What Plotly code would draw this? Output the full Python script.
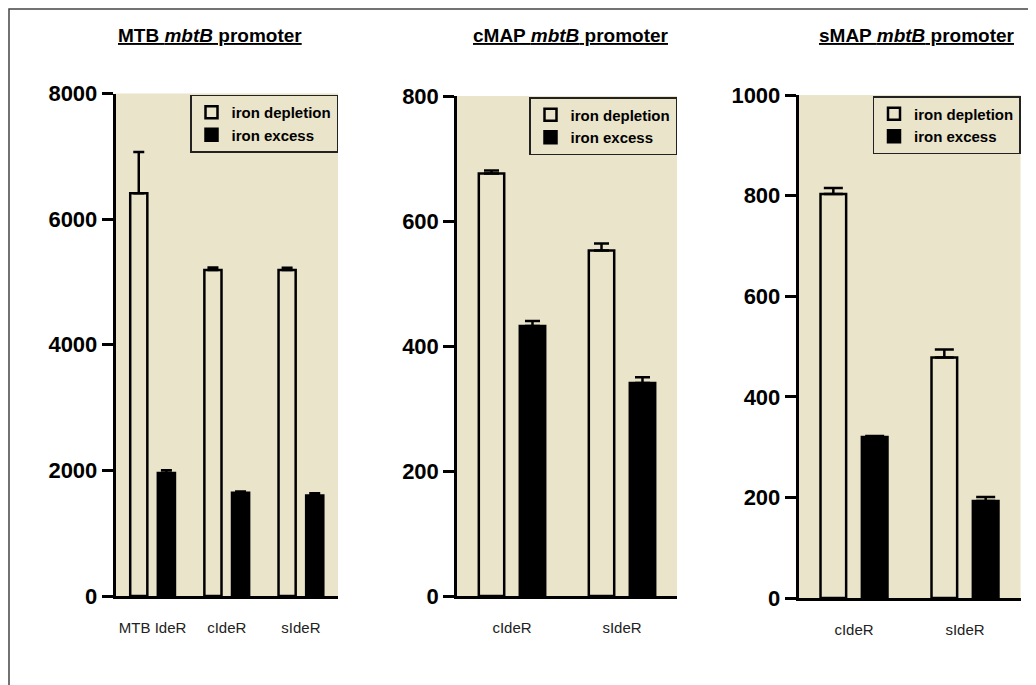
import plotly.graph_objects as go

W, H = 1036, 685

# ---------------- data ----------------
cats_mtb = ["MTB IdeR", "cIdeR", "sIdeR"]
dep_mtb = [6410, 5190, 5190]
dep_mtb_err = [660, 40, 35]
exc_mtb = [1960, 1645, 1600]
exc_mtb_err = [40, 20, 35]

cats_cmap = ["cIdeR", "sIdeR"]
dep_cmap = [676, 553]
dep_cmap_err = [5, 11]
exc_cmap = [432, 341]
exc_cmap_err = [8, 9]

cats_smap = ["cIdeR", "sIdeR"]
dep_smap = [803, 478]
dep_smap_err = [12, 16]
exc_smap = [320, 193]
exc_smap_err = [2, 8]

titles = ["MTB <i>mbtB</i> promoter", "cMAP <i>mbtB</i> promoter", "sMAP <i>mbtB</i> promoter"]
y_max = [8000, 800, 1000]
y_dtick = [2000, 200, 200]
series_names = ["iron depletion", "iron excess"]

# ---------------- style ----------------
FONT = "Liberation Sans, Arial, sans-serif"
BG = "#EAE4CA"
OX, OY = 8, 8  # page offset of the figure in the browser
panels_px = [(115.5, 338, 93.5, 596), (457, 677, 96, 596), (798.5, 1020.5, 95, 598)]
title_px = [(210, 36), (571, 36), (917, 36)]
cap_w = [5.5, 7.5, 9.5]


def px(x):
    return (x - OX) / W


def py(y):
    return 1 - (y - OY) / H


data_sets = [
    (cats_mtb, dep_mtb, dep_mtb_err, exc_mtb, exc_mtb_err),
    (cats_cmap, dep_cmap, dep_cmap_err, exc_cmap, exc_cmap_err),
    (cats_smap, dep_smap, dep_smap_err, exc_smap, exc_smap_err),
]

fig = go.Figure()
layout = dict(
    width=W, height=H, autosize=False,
    margin=dict(l=0, r=0, t=0, b=0, autoexpand=False),
    paper_bgcolor="white", plot_bgcolor=BG,
    barmode="group", bargap=0.255, bargroupgap=0.38,
    font=dict(family=FONT, color="black"),
    annotations=[], shapes=[],
)

for i, (cats, dep, dep_err, exc, exc_err) in enumerate(data_sets):
    sfx = "" if i == 0 else str(i + 1)
    xa, ya = "x" + sfx, "y" + sfx
    lg = "legend" + sfx
    for name, vals, errs, fill in [
        (series_names[0], dep, dep_err, "rgba(0,0,0,0)"),
        (series_names[1], exc, exc_err, "black"),
    ]:
        fig.add_trace(go.Bar(
            x=cats, y=vals, name=name, xaxis=xa, yaxis=ya, legend=lg,
            marker=dict(color=fill, line=dict(color="black", width=2.5)),
            error_y=dict(type="data", array=errs, arrayminus=[0] * len(errs),
                         symmetric=False, color="black", thickness=2.5, width=cap_w[i]),
            hoverinfo="skip",
        ))
    l, r, t, b = panels_px[i]
    layout["xaxis" + sfx] = dict(
        domain=[px(l), px(r)], anchor=ya, showline=True, linecolor="black", linewidth=2.5,
        ticks="", showgrid=False, zeroline=False, ticklabelstandoff=16, automargin=False,
        tickfont=dict(family=FONT, size=15, color="#222"),
    )
    layout["yaxis" + sfx] = dict(
        domain=[py(b), py(t)], anchor=xa, range=[0, y_max[i]], dtick=y_dtick[i],
        showline=True, linecolor="black", linewidth=2.5, ticks="outside", ticklen=11,
        tickwidth=2.5, tickcolor="black", showgrid=False, zeroline=False, automargin=False,
        tickfont=dict(family=FONT, size=22, color="black", weight="bold"),
    )
    layout[lg] = dict(
        x=px(r), xanchor="right", y=py(t + 1), yanchor="top",
        bgcolor="rgba(0,0,0,0)", bordercolor="#222", borderwidth=1.5,
        font=dict(family=FONT, size=15, color="black", weight="bold"),
        tracegroupgap=0, itemwidth=30,
    )
    tx, ty = title_px[i]
    layout["annotations"].append(dict(
        text="<u>" + titles[i] + "</u>", x=px(tx), y=py(ty), xref="paper", yref="paper",
        xanchor="center", yanchor="middle", showarrow=False,
        font=dict(family=FONT, size=19, color="black", weight="bold"),
    ))

# outer frame (top edge kept just inside the figure)
layout["shapes"].append(dict(
    type="rect", xref="paper", yref="paper", x0=px(9), x1=1.01, y0=-0.01, y1=1 - 1 / H,
    line=dict(color="#444", width=1.5), fillcolor="rgba(0,0,0,0)", layer="above",
))

fig.update_layout(**layout)
fig.write_html("out.html")
